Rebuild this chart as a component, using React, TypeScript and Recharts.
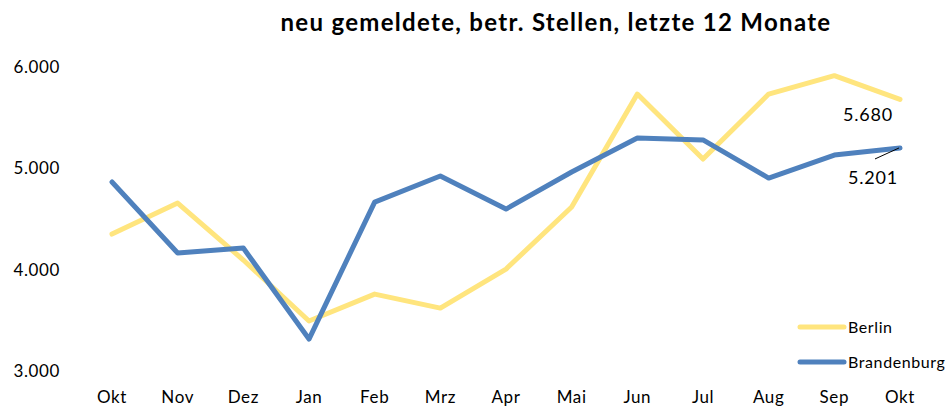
import { LineChart, Line, XAxis, YAxis } from "recharts"

// ---------------------------------------------------------------------------
// Daten
// ---------------------------------------------------------------------------

const MONTHS = ["Okt", "Nov", "Dez", "Jan", "Feb", "Mrz", "Apr", "Mai", "Jun", "Jul", "Aug", "Sep", "Okt"]
const BERLIN = [4351, 4657, 4095, 3493, 3759, 3621, 4006, 4618, 5733, 5092, 5733, 5914, 5680]
const BRANDENBURG = [4865, 4164, 4213, 3315, 4667, 4924, 4598, 4964, 5299, 5280, 4904, 5131, 5201]
const Y_TICKS = [3000, 4000, 5000, 6000]

const data = MONTHS.map((m, i) => ({ month: m, Berlin: BERLIN[i], Brandenburg: BRANDENBURG[i] }))

const YELLOW = "#FFE57E"
const BLUE = "#4F81BD"
const FONT = "Lato, 'Open Sans', sans-serif"

function fmt(v: number): string {
  return v.toLocaleString("de-DE")
}

// Beschriftung nur am letzten Punkt
function BerlinLabel(props: any) {
  const { x, y, index, value } = props
  if (index !== MONTHS.length - 1) return null
  return (
    <text x={x - 32} y={y + 22} textAnchor="middle" fontSize={18} letterSpacing={0.8} fontFamily={FONT} fill="#000">
      {fmt(value)}
    </text>
  )
}

function BrandenburgLabel(props: any) {
  const { x, y, index, value } = props
  if (index !== MONTHS.length - 1) return null
  return (
    <g>
      <line x1={x - 1} y1={y} x2={x - 25} y2={y + 11} stroke="#000" strokeWidth={1} />
      <text x={x - 27} y={y + 36} textAnchor="middle" fontSize={18} letterSpacing={0.8} fontFamily={FONT} fill="#000">
        {fmt(value)}
      </text>
    </g>
  )
}

function LegendBox() {
  const items = [
    { name: "Berlin", color: YELLOW },
    { name: "Brandenburg", color: BLUE },
  ]
  return (
    <div style={{ position: "absolute", left: 797, top: 309, fontFamily: FONT, fontSize: 16, letterSpacing: 0.6, color: "#000" }}>
      {items.map((it) => (
        <div key={it.name} style={{ display: "flex", alignItems: "center", height: 35 }}>
          <svg width={51} height={10}>
            <line x1={3} y1={5} x2={47} y2={5} stroke={it.color} strokeWidth={5} strokeLinecap="round" />
          </svg>
          <span>{it.name}</span>
        </div>
      ))}
    </div>
  )
}

const tickStyle = { fontSize: 17, fill: "#000", fontFamily: FONT, letterSpacing: 0.6 }

export default function App() {
  return (
    <div style={{ position: "absolute", left: 0, top: 0, width: 949, height: 410, background: "#fff" }}>
      <div
        style={{
          position: "absolute",
          left: 206,
          top: 7,
          width: 700,
          textAlign: "center",
          fontFamily: FONT,
          fontWeight: 700,
          fontSize: 24,
          letterSpacing: 1.3,
          lineHeight: "30px",
          color: "#000",
        }}
      >
        neu gemeldete, betr. Stellen, letzte 12 Monate
      </div>
      <LineChart width={949} height={410} data={data} margin={{ top: 67, right: 16, bottom: 9, left: 0 }}>
        <XAxis
          dataKey="month"
          padding={{ left: 33, right: 33 }}
          axisLine={false}
          tickLine={false}
          tickSize={0}
          tickMargin={20}
          height={30}
          interval={0}
          tick={tickStyle}
        />
        <YAxis
          domain={[3000, 6000]}
          ticks={Y_TICKS}
          axisLine={false}
          tickLine={false}
          tickSize={0}
          tickMargin={19}
          width={79}
          tickFormatter={fmt}
          tick={tickStyle}
        />
        <Line
          type="linear"
          dataKey="Berlin"
          stroke={YELLOW}
          strokeWidth={5}
          strokeLinecap="round"
          strokeLinejoin="round"
          dot={false}
          activeDot={false}
          isAnimationActive={false}
          label={<BerlinLabel />}
        />
        <Line
          type="linear"
          dataKey="Brandenburg"
          stroke={BLUE}
          strokeWidth={5}
          strokeLinecap="round"
          strokeLinejoin="round"
          dot={false}
          activeDot={false}
          isAnimationActive={false}
          label={<BrandenburgLabel />}
        />
      </LineChart>
      <LegendBox />
    </div>
  )
}
